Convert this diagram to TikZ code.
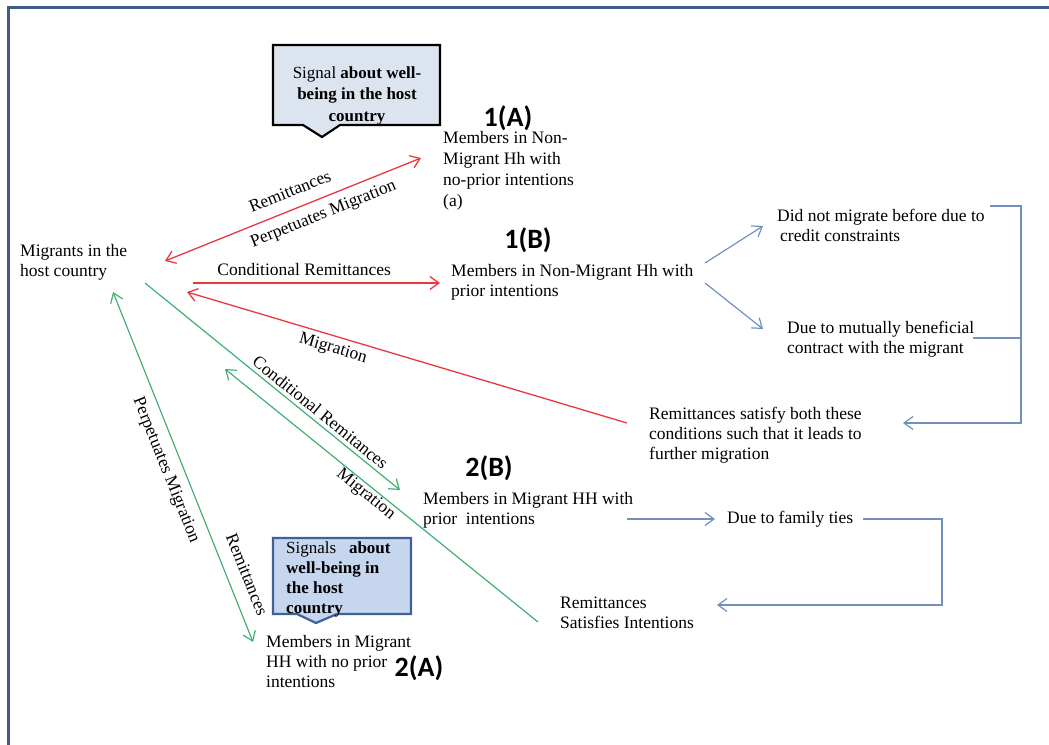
\documentclass[tikz,border=0pt]{standalone}
\usepackage{fontspec}
\setmainfont{Liberation Serif}
\newfontfamily\calib{Carlito}
\usetikzlibrary{arrows.meta}
\definecolor{frameblue}{HTML}{3D5E88}
\definecolor{redline}{HTML}{E8383D}
\definecolor{greenline}{HTML}{3FB071}
\definecolor{blueline}{HTML}{7090C0}
\definecolor{callafill}{HTML}{DCE4EF}
\definecolor{callbfill}{HTML}{C5D6EE}
\definecolor{callbdraw}{HTML}{3F6196}
\newcommand\fs{\rule{0pt}{14pt}}
\tikzset{
  txt/.style={anchor=north west, inner sep=0pt, align=left, font=\fontsize{17.5}{20}\selectfont},
  big/.style={inner sep=0pt, font=\calib\bfseries\fontsize{28}{30}\selectfont},
  lab/.style={font=\fontsize{17.5}{20}\selectfont, sloped},
  tip/.style={-{Straight Barb[length=9pt,width=13pt]}},
  redc/.style={draw=redline, line width=1.3pt},
  greenc/.style={draw=greenline, line width=1.2pt},
  bluec/.style={draw=blueline, line width=1.2pt}
}
\begin{document}
\begin{tikzpicture}[x=1pt,y=-1pt]
\useasboundingbox (0,0) rectangle (1049,744);
% frame
\draw[frameblue, line width=3pt] (8,746) -- (8,7) -- (1051,7);

% callouts
\draw[fill=callafill, line width=2.2pt, line join=miter] (273,45) -- (440,45) -- (440,125) -- (340,125) -- (322,137) -- (303,125) -- (273,125) -- cycle;
\node[inner sep=0pt, align=center, font=\fontsize{17}{21.5}\selectfont] (siga) at (357,95.5) {Signal \textbf{about well-}\\\textbf{being in the host}\\\textbf{country}};
\draw[fill=callbfill, draw=callbdraw, line width=2.2pt, line join=miter] (273,538) -- (411,538) -- (411,614) -- (337,614) -- (316,623) -- (297,614) -- (273,614) -- cycle;
\node[txt, font=\fontsize{17}{20}\selectfont] (sigb) at (286,539) {\fs Signals\ \ \ \textbf{about}\\\textbf{well-being in}\\\textbf{the host}\\\textbf{country}};

% text nodes
\node[big] (l1a) at (508,118) {1(A)};
\node[txt, font=\fontsize{17.5}{21}\selectfont] (n1a) at (443,129) {\fs Members in Non-\\Migrant Hh with\\no-prior intentions\\(a)};
\node[txt] (mig) at (20,242) {\fs Migrants in the\\host country};
\node[big] (l1b) at (528,240) {1(B)};
\node[txt] (n1b) at (451,262) {\fs Members in Non-Migrant Hh with\\prior intentions};
\node[txt] (dnm) at (777,207) {\fs Did not migrate before due to\\\hspace*{3pt}credit constraints};
\node[txt] (dtm) at (787,319) {\fs Due to mutually beneficial\\contract with the migrant};
\node[txt] (rsb) at (649,405) {\fs Remittances satisfy both these\\conditions such that it leads to\\further migration};
\node[big] (l2b) at (489,468) {2(B)};
\node[txt] (n2b) at (423,490) {\fs Members in Migrant HH with\\prior\ \ intentions};
\node[txt] (dft) at (727,509) {\fs Due to family ties};
\node[txt] (rsi) at (560,594) {\fs Remittances\\Satisfies Intentions};
\node[txt] (n2a) at (266,633) {\fs Members in Migrant\\HH with no prior\\intentions};
\node[big] (l2a) at (419,668) {2(A)};

% connector end points
\coordinate (migA) at (165,261);  \coordinate (n1aW) at (421,158);
\coordinate (migB) at (193,283);  \coordinate (n1bW) at (440,283);
\coordinate (migC) at (187,292);  \coordinate (rsbW) at (627,423);
\coordinate (migD) at (145,283);  \coordinate (n2bW) at (400,490);
\coordinate (migE) at (225,369);  \coordinate (rsiW) at (538,622);
\coordinate (migF) at (113,292);  \coordinate (n2aW) at (253,642);
\coordinate (n1bE1) at (705,263); \coordinate (dnmW) at (763,226);
\coordinate (n1bE2) at (705,283); \coordinate (dtmW) at (763,329);
\coordinate (dnmE) at (990,206);  \coordinate (brA) at (1021,206);
\coordinate (brB) at (1021,423);  \coordinate (rsbE) at (903,423);
\coordinate (dtmE) at (973,338);  \coordinate (brC) at (1021,338);
\coordinate (n2bE) at (627,519);  \coordinate (dftW) at (715,519);
\coordinate (dftE) at (863,519);  \coordinate (brD) at (942,519);
\coordinate (brE) at (942,605);   \coordinate (rsiE) at (717,605);

% red connectors
\draw[redc, {Straight Barb[length=9pt,width=13pt]}-{Straight Barb[length=9pt,width=13pt]}] (migA) -- (n1aW)
  node[lab, pos=0.514, above, inner sep=11.5pt] {Remittances}
  node[lab, pos=0.596, below, inner sep=8pt] {Perpetuates Migration};
\draw[redc, tip] (migB) -- (n1bW)
  node[lab, pos=0.45, above, inner sep=7pt] {Conditional Remittances};
\draw[redc, {Straight Barb[length=9pt,width=13pt]}-] (migC) -- (rsbW)
  node[lab, pos=0.34, below, inner sep=4.5pt] {Migration};

% green connectors
\draw[greenc, tip] (migD) -- (n2bW)
  node[lab, pos=0.663, above, inner sep=3.5pt] {Conditional Remitances};
\draw[greenc, {Straight Barb[length=9pt,width=13pt]}-] (migE) -- (rsiW)
  node[lab, pos=0.468, below, inner sep=1pt] {Migration};
\draw[greenc, {Straight Barb[length=9pt,width=13pt]}-{Straight Barb[length=9pt,width=13pt]}] (migF) -- (n2aW)
  node[lab, pos=0.491, below, inner sep=9pt] {Perpetuates Migration}
  node[lab, pos=0.828, above, inner sep=13pt] {Remittances};

% blue connectors
\draw[bluec, tip] (n1bE1) -- (dnmW);
\draw[bluec, tip] (n1bE2) -- (dtmW);
\draw[bluec, tip] (dnmE) -- (brA) -- (brB) -- (rsbE);
\draw[bluec] (dtmE) -- (brC);
\draw[bluec, tip] (n2bE) -- (dftW);
\draw[bluec, tip] (dftE) -- (brD) -- (brE) -- (rsiE);
\end{tikzpicture}
\end{document}
